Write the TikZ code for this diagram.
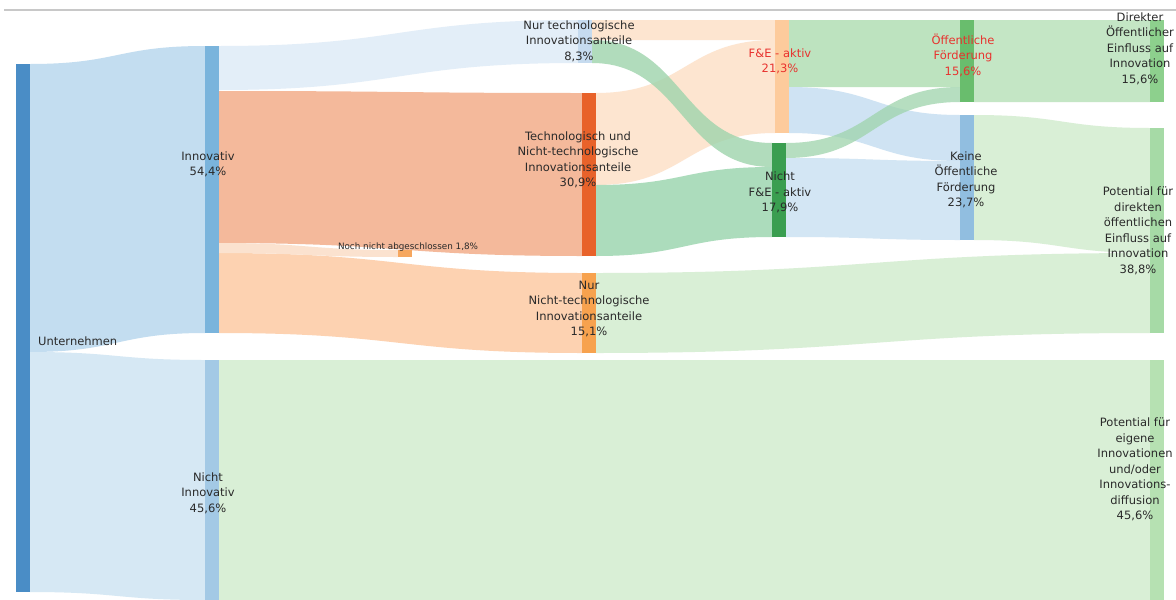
\documentclass[tikz,border=0pt]{standalone}
\usepackage{fontspec}
\setmainfont{DejaVu Sans}
\usetikzlibrary{calc}
% bar colours
\definecolor{cU}{HTML}{4A8DC6}
\definecolor{cInn}{HTML}{7AB4DC}
\definecolor{cNInn}{HTML}{A3C9E5}
\definecolor{cNurT}{HTML}{C6DBEF}
\definecolor{cTuN}{HTML}{E8622A}
\definecolor{cNoch}{HTML}{F6A75F}
\definecolor{cNurN}{HTML}{F7A24E}
\definecolor{cFEa}{HTML}{FDCB9C}
\definecolor{cNFE}{HTML}{3A9E50}
\definecolor{cOeF}{HTML}{69BD6D}
\definecolor{cKeine}{HTML}{91BEE0}
\definecolor{cDir}{HTML}{8DD08D}
\definecolor{cPotD}{HTML}{A6DAA6}
\definecolor{cPotE}{HTML}{B6E1B2}
% flow colours
\definecolor{fUI}{HTML}{C3DDF0}
\definecolor{fUN}{HTML}{D6E8F4}
\definecolor{fNurT}{HTML}{E3EEF8}
\definecolor{fTuN}{HTML}{F4B99B}
\definecolor{fNoch}{HTML}{FBE2CF}
\definecolor{fNurN}{HTML}{FDD2B1}
\definecolor{fPeach}{HTML}{FDE5D0}
\definecolor{fGreenM}{HTML}{9ED4AC}
\definecolor{fGreenT}{HTML}{ACDCBC}
\definecolor{fOeF}{HTML}{BDE3BF}
\definecolor{fBlue}{HTML}{CFE3F3}
\definecolor{fBlueB}{HTML}{D3E6F4}
\definecolor{fDir}{HTML}{C4E6C5}
\definecolor{fPot}{HTML}{D9EFD6}
\definecolor{cRed}{HTML}{E8322E}
\definecolor{cTxt}{HTML}{2A2A2A}
\definecolor{cRule}{HTML}{C8C8C8}
% flow: source node, y top, y bottom, target node, y top, y bottom, style
\newcommand\sflow[7]{%
  \fill[#7] let \p1=(#1.east), \p2=(#4.west), \p3=($(\p1)!0.5!(\p2)$) in
    (\x1,-#2pt) .. controls (\x3,-#2pt) and (\x3,-#5pt) .. (\x2,-#5pt)
    -- (\x2,-#6pt) .. controls (\x3,-#6pt) and (\x3,-#3pt) .. (\x1,-#3pt) -- cycle;}
\tikzset{
  bar/.style={rectangle, inner sep=0pt, outer sep=0pt, minimum width=14pt, draw=none, anchor=north west},
  lbl/.style={align=center, inner sep=0pt, text=cTxt, font=\fontsize{11.5}{15.5}\selectfont},
  redlbl/.style={lbl, text=cRed},
  smalllbl/.style={inner sep=0pt, text=cTxt, font=\fontsize{8.8}{10}\selectfont},
}
\begin{document}
\begin{tikzpicture}[x=1pt,y=-1pt]
\path[use as bounding box, fill=white] (0,0) rectangle (1176,600);
\clip (0,0) rectangle (1176,600);
\coordinate (ruleA) at (4,10);
\coordinate (ruleB) at (1176,10);
\draw[cRule, line width=1.3pt] (ruleA) -- (ruleB);
% bars (nodes)
\node[bar, fill=cU,     minimum height=528pt] (U)     at (16,64)   {};
\node[bar, fill=cInn,   minimum height=287pt] (Inn)   at (205,46)  {};
\node[bar, fill=cNInn,  minimum height=240pt] (NInn)  at (205,360) {};
\node[bar, fill=cNurT,  minimum height=43pt]  (NurT)  at (578,20)  {};
\node[bar, fill=cTuN,   minimum height=163pt] (TuN)   at (582,93)  {};
\node[bar, fill=cNoch,  minimum height=7pt]   (Noch)  at (398,250) {};
\node[bar, fill=cNurN,  minimum height=80pt]  (NurN)  at (582,273) {};
\node[bar, fill=cFEa,   minimum height=113pt] (FEa)   at (775,20)  {};
\node[bar, fill=cNFE,   minimum height=94pt]  (NFE)   at (772,143) {};
\node[bar, fill=cOeF,   minimum height=82pt]  (OeF)   at (960,20)  {};
\node[bar, fill=cKeine, minimum height=125pt] (Keine) at (960,115) {};
\node[bar, fill=cDir,   minimum height=82pt]  (Dir)   at (1150,20) {};
\node[bar, fill=cPotD,  minimum height=205pt] (PotD)  at (1150,128) {};
\node[bar, fill=cPotE,  minimum height=240pt] (PotE)  at (1150,360) {};
% flows
\sflow{U}{64}{352}{Inn}{46}{333}{fUI}
\sflow{U}{352}{592}{NInn}{360}{600}{fUN}
\sflow{Inn}{46}{90}{NurT}{20}{63}{fNurT}
\sflow{Inn}{91}{243}{TuN}{93}{256}{fTuN}
\sflow{Inn}{253}{333}{NurN}{273}{353}{fNurN}
\sflow{Inn}{243}{253}{Noch}{250}{257}{fNoch}
\sflow{NurT}{20}{40}{FEa}{20}{40}{fPeach}
\sflow{TuN}{93}{185}{FEa}{40}{133}{fPeach}
\sflow{TuN}{185}{256}{NFE}{167}{237}{fGreenT}
\sflow{NurT}{40}{63}{NFE}{143}{167}{fGreenM, fill opacity=0.8}
\sflow{FEa}{20}{87}{OeF}{20}{87}{fOeF}
\sflow{FEa}{87}{133}{Keine}{115}{161}{fBlue}
\sflow{NFE}{158}{237}{Keine}{161}{240}{fBlueB}
\sflow{NFE}{143}{158}{OeF}{87}{102}{fGreenM, fill opacity=0.75}
\sflow{OeF}{20}{102}{Dir}{20}{102}{fDir}
\sflow{Keine}{115}{240}{PotD}{128}{253}{fPot}
\sflow{NurN}{273}{353}{PotD}{253}{333}{fPot}
\sflow{NInn}{360}{600}{PotE}{360}{600}{fPot}
% redraw bars on top of flows
\foreach \b/\c in {U/cU,Inn/cInn,NInn/cNInn,NurT/cNurT,TuN/cTuN,Noch/cNoch,NurN/cNurN,FEa/cFEa,NFE/cNFE,OeF/cOeF,Keine/cKeine,Dir/cDir,PotD/cPotD,PotE/cPotE}
  \fill[\c] (\b.north west) rectangle (\b.south east);
% labels
\node[lbl, anchor=west] (tU) at (38,341) {Unternehmen};
\node[lbl] (tInn) at (208,164.5) {Innovativ\\54,4\%};
\node[lbl] (tNInn) at (208,493) {Nicht\\Innovativ\\45,6\%};
\node[lbl] (tNurT) at (579,41) {Nur technologische\\Innovationsanteile\\8,3\%};
\node[lbl] (tTuN) at (578,160) {Technologisch und\\Nicht-technologische\\Innovationsanteile\\30,9\%};
\node[smalllbl] (tNoch) at (408,247) {Noch nicht abgeschlossen 1,8\%};
\node[lbl] (tNurN) at (589,309) {Nur\\Nicht-technologische\\Innovationsanteile\\15,1\%};
\node[redlbl] (tFEa) at (780,61.5) {F\&E - aktiv\\21,3\%};
\node[lbl] (tNFE) at (780,192.5) {Nicht\\F\&E - aktiv\\17,9\%};
\node[redlbl] (tOeF) at (963,55) {Öffentliche\\Förderung\\15,6\%};
\node[lbl] (tKeine) at (966,180) {Keine\\Öffentliche\\Förderung\\23,7\%};
\node[lbl] (tDir) at (1140,48.5) {Direkter\\Öffentlicher\\Einfluss auf\\Innovation\\15,6\%};
\node[lbl] (tPotD) at (1138,231) {Potential für\\direkten\\öffentlichen\\Einfluss auf\\Innovation\\38,8\%};
\node[lbl] (tPotE) at (1135,469.5) {Potential für\\eigene\\Innovationen\\und/oder\\Innovations-\\diffusion\\45,6\%};
\end{tikzpicture}
\end{document}
